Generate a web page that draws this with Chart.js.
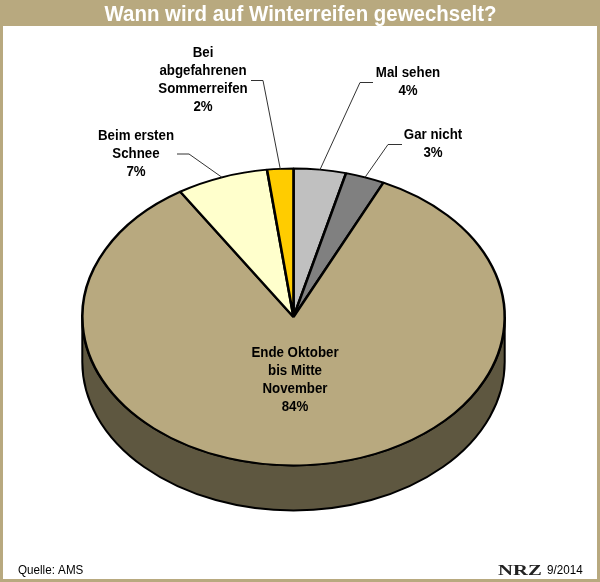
<!DOCTYPE html>
<html>
<head>
<meta charset="utf-8">
<style>
  html, body { margin: 0; padding: 0; background: #fff; }
  canvas { display: block; }
</style>
<script src="https://cdn.jsdelivr.net/npm/chart.js@4"></script>
</head>
<body>
<canvas id="chart" width="600" height="582"></canvas>
<script>
const titleText = "Wann wird auf Winterreifen gewechselt?";
const sourceText = "Quelle: AMS";
const logoText = "NRZ";
const dateText = "9/2014";

const categories = [
  "Mal sehen",
  "Gar nicht",
  "Ende Oktober bis Mitte November",
  "Beim ersten Schnee",
  "Bei abgefahrenen Sommerreifen"
];
const shares = [4, 3, 84, 7, 2];
const labelLines = [
  ["Mal sehen"],
  ["Gar nicht"],
  ["Ende Oktober", "bis Mitte", "November"],
  ["Beim ersten", "Schnee"],
  ["Bei", "abgefahrenen", "Sommerreifen"]
];
const sliceColors = ["#c0c0c0", "#808080", "#b8a97f", "#ffffcc", "#ffcc00"];
const sideColors = ["#606060", "#404040", "#5e5740", "#808066", "#806600"];

// label placement, first line centre + leader elbow and end
const labelLayout = [
  { x: 408, y: 73.5, elbow: [360, 82.5], end: [373, 82.5] },
  { x: 433, y: 135, elbow: [388, 144.5], end: [402, 144.5] },
  { x: 295, y: 353 },
  { x: 136, y: 136.5, elbow: [189, 154], end: [177, 154] },
  { x: 203, y: 53.5, elbow: [263, 80.5], end: [251, 80.5] }
];

const frameColor = "#b8a97f";
const squash = 0.703; // flattens the round pie to the tilted ellipse
const depth = 45;     // height of the pie's side wall
const lineHeight = 18;

// reference text runs a bit narrower than the installed font
function narrowText(ctx, text, x, y, factor) {
  ctx.fillText(text, x, y, ctx.measureText(text).width * factor);
}

// draws the tilted pie: side wall first, then squeezes the arcs
const tiltPlugin = {
  id: "tilt",
  beforeDatasetsDraw(chart) {
    const ctx = chart.ctx;
    const arcs = chart.getDatasetMeta(0).data;
    arcs.forEach((arc, i) => {
      const start = Math.max(arc.startAngle, 0);
      const end = Math.min(arc.endAngle, Math.PI);
      if (end <= start) return;
      ctx.beginPath();
      ctx.ellipse(arc.x, arc.y, arc.outerRadius, arc.outerRadius * squash, 0, start, end);
      ctx.ellipse(arc.x, arc.y + depth, arc.outerRadius, arc.outerRadius * squash, 0, end, start, true);
      ctx.closePath();
      ctx.fillStyle = sideColors[i];
      ctx.fill();
      ctx.lineWidth = 2;
      ctx.strokeStyle = "#000";
      ctx.stroke();
    });
    const first = arcs[0];
    ctx.save();
    ctx.translate(first.x, first.y);
    ctx.scale(1, squash);
    ctx.translate(-first.x, -first.y);
  },
  afterDatasetsDraw(chart) {
    chart.ctx.restore();
  }
};

// frame, title band, footer
const framePlugin = {
  id: "frame",
  beforeDraw(chart) {
    const ctx = chart.ctx;
    ctx.fillStyle = frameColor;
    ctx.fillRect(0, 0, chart.width, chart.height);
    ctx.fillStyle = "#fff";
    ctx.fillRect(3, 26, chart.width - 6, chart.height - 29);
  },
  afterDraw(chart) {
    const ctx = chart.ctx;
    ctx.textBaseline = "middle";

    ctx.fillStyle = "#fff";
    ctx.textAlign = "center";
    ctx.font = "bold 22px 'Liberation Sans'";
    ctx.fillText(titleText, 300.5, 14.5, 392);

    ctx.fillStyle = "#000";
    ctx.textAlign = "left";
    ctx.font = "12px 'Liberation Sans'";
    narrowText(ctx, sourceText, 18, 571, 0.97);
    narrowText(ctx, dateText, 547, 571, 0.97);

    ctx.save();
    ctx.translate(498, 571);
    ctx.scale(1.38, 1);
    ctx.fillStyle = "#222";
    ctx.font = "bold 15px 'Liberation Serif'";
    ctx.fillText(logoText, 0, 0);
    ctx.restore();
  }
};

// percent labels with leader lines
const labelPlugin = {
  id: "sliceLabels",
  afterDatasetsDraw(chart) {
    const ctx = chart.ctx;
    const arcs = chart.getDatasetMeta(0).data;
    arcs.forEach((arc, i) => {
      const place = labelLayout[i];
      if (place.elbow) {
        const mid = (arc.startAngle + arc.endAngle) / 2;
        ctx.beginPath();
        ctx.moveTo(arc.x + Math.cos(mid) * arc.outerRadius,
                   arc.y + Math.sin(mid) * arc.outerRadius * squash);
        ctx.lineTo(place.elbow[0], place.elbow[1]);
        ctx.lineTo(place.end[0], place.end[1]);
        ctx.lineWidth = 1;
        ctx.strokeStyle = "#333";
        ctx.stroke();
      }
      ctx.fillStyle = "#000";
      ctx.textAlign = "center";
      ctx.textBaseline = "middle";
      ctx.font = "bold 14px 'Liberation Sans'";
      const lines = labelLines[i].concat(shares[i] + "%");
      lines.forEach((line, n) => {
        narrowText(ctx, line, place.x, place.y + n * lineHeight, 0.95);
      });
    });
  }
};

new Chart(document.getElementById("chart"), {
  type: "pie",
  data: {
    labels: categories,
    datasets: [{
      data: shares,
      backgroundColor: sliceColors,
      borderColor: "#000",
      borderWidth: 2.6,
      clip: false
    }]
  },
  options: {
    responsive: false,
    animation: false,
    layout: { padding: { left: 81, right: 94, top: 103.5, bottom: 51.5 } },
    plugins: {
      legend: { display: false },
      tooltip: { enabled: false },
      title: { display: false }
    }
  },
  plugins: [framePlugin, tiltPlugin, labelPlugin]
});
</script>
</body>
</html>
